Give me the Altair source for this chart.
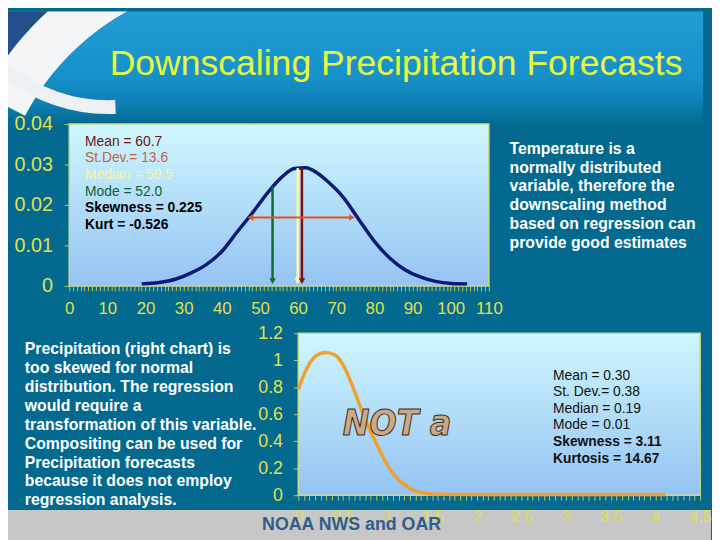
import altair as alt
import pandas as pd

# ------------------------------------------------------------------ data
# Temperature (upper chart): density curve
temp_x = [19, 24, 28, 32, 36, 40, 44, 48, 52, 56, 59, 62, 65, 68, 72, 76, 80, 84, 88, 92, 96, 100, 104.3]
temp_y = [0.0005, 0.0009, 0.0017, 0.0032, 0.0053, 0.0085, 0.0133, 0.0180, 0.0230, 0.0271, 0.0290,
          0.0292, 0.0279, 0.0256, 0.0217, 0.0163, 0.0110, 0.0069, 0.0040, 0.0022, 0.0011, 0.0006, 0.0005]

# vertical marker arrows (mode, median, mean) and the +/- st.dev. arrow
arrow_names = ["Mode", "Median", "Mean"]
arrow_x = [53.3, 59.9, 61.0]
arrow_top = [0.0246, 0.0291, 0.0291]
arrow_base = 0.0012
sd_span = [47.5, 74.1]
sd_level = 0.0169

temp_stats = ["Mean = 60.7", "St.Dev.= 13.6", "Median = 59.5", "Mode = 52.0",
              "Skewness = 0.225", "Kurt = -0.526"]

# Precipitation (lower chart): density curve
precip_x = [0, 0.08, 0.19, 0.3, 0.41, 0.52, 0.63, 0.74, 0.86, 0.97, 1.08, 1.23, 1.41, 1.59, 2.0, 3.0, 4.11]
precip_y = [0.783, 0.918, 1.029, 1.058, 1.04, 0.943, 0.77, 0.574, 0.403, 0.255, 0.145, 0.059,
            0.015, 0.007, 0.005, 0.005, 0.005]

precip_stats = ["Mean = 0.30", "St. Dev.= 0.38", "Median = 0.19", "Mode = 0.01",
                "Skewness = 3.11", "Kurtosis = 14.67"]

# tick values / labels
temp_x_ticks = list(range(0, 111))
temp_y_ticks = [0, 0.01, 0.02, 0.03, 0.04]
precip_x_ticks = [k / 16 for k in range(0, 73)]
precip_y_ticks = [0, 0.2, 0.4, 0.6, 0.8, 1.0, 1.2]

title_text = "Downscaling Precipitation Forecasts"
right_text = ["Temperature is a", "normally  distributed", "variable, therefore the",
              "downscaling method", "based on regression can", "provide good estimates"]
left_text = ["Precipitation (right chart) is", "too skewed for normal",
             "distribution.  The regression", "would require a",
             "transformation of this variable.", "Compositing can be used for",
             "Precipitation forecasts", "because it does not employ", "regression analysis."]
footer_text = "NOAA NWS and OAR"
stamp_text = "NOT a"

# ------------------------------------------------------------------ styles / layout
FONT = "Liberation Sans"
BG = "#03698f"
AXIS_YELLOW = "#e0e04c"
TITLE_YELLOW = "#e8fb3c"
FRAME = "#cdd98a"
W = 704
TL, TR, TH = 62, 487, 164      # upper plot: left / right edge, height
BL, BR, BH = 294, 701, 164     # lower plot: left / right edge, height
one = alt.Data(values=[{"k": 1}])

plot_fill = alt.LinearGradient(
    gradient="linear", x1=0, x2=0, y1=0, y2=1,
    stops=[alt.GradientStop(offset=0, color="#cff7fd"),
           alt.GradientStop(offset=1, color="#95c3f4")])
header_fill = alt.LinearGradient(
    gradient="linear", x1=0, x2=0, y1=0, y2=1,
    stops=[alt.GradientStop(offset=0, color="#229cd3"),
           alt.GradientStop(offset=0.6, color="#1690c8"),
           alt.GradientStop(offset=0.82, color="#0c7fb4"),
           alt.GradientStop(offset=1, color=BG)])

# ------------------------------------------------------------------ header
header = alt.layer(
    alt.Chart(one).mark_rect(fill=header_fill).encode(
        x=alt.value(0), x2=alt.value(W), y=alt.value(0), y2=alt.value(114)),
    alt.Chart(one).mark_arc(fill="#22508a", radius=600, radius2=298, theta=5.19, theta2=6.0, clip=True).encode(
        x=alt.value(242), y=alt.value(222)),
    alt.Chart(one).mark_arc(fill="#f3f5f7", radius=300, radius2=253, theta=5.19, theta2=6.0, clip=True).encode(
        x=alt.value(242), y=alt.value(222)),
    alt.Chart(one).mark_arc(fill="#eef1f4", radius=172, radius2=158, theta=3.1, theta2=3.85, clip=True).encode(
        x=alt.value(102), y=alt.value(-68)),
    alt.Chart(one).mark_text(text=title_text, font=FONT, fontSize=36, color=TITLE_YELLOW,
                             align="center", baseline="alphabetic").encode(
        x=alt.value(393), y=alt.value(64)),
).properties(width=W, height=114)

# ------------------------------------------------------------------ upper row (temperature)
tx_scale = alt.Scale(domain=[0, 110], range=[TL, TR], nice=False, zero=False)
ty_scale = alt.Scale(domain=[0, 0.04], nice=False)
tx_axis = alt.Axis(values=temp_x_ticks, labelExpr="datum.value % 10 == 0 ? datum.label : ''",
                   format="d", labelFlush=False, labelOverlap=False, tickSize=5, labelPadding=10,
                   labelFontSize=17, title=None)
ty_axis = alt.Axis(values=temp_y_ticks, format="~g", tickSize=5, labelPadding=12, offset=-TL,
                   labelFontSize=20, labelOverlap=False, title=None)


def TX(f="x"):
    return alt.X(f"{f}:Q", scale=tx_scale, axis=tx_axis)


def TY(f="y"):
    return alt.Y(f"{f}:Q", scale=ty_scale, axis=ty_axis)


temp_df = pd.DataFrame({"x": temp_x, "y": temp_y})
arrows_df = pd.DataFrame({"name": arrow_names, "x": arrow_x, "y": arrow_top,
                          "y2": [arrow_base] * len(arrow_x)})
heads_df = pd.DataFrame({"name": arrow_names, "x": arrow_x, "y": [arrow_base] * len(arrow_x)})
sd_df = pd.DataFrame({"x": [sd_span[0]], "x2": [sd_span[1]], "y": [sd_level]})
sd_heads_df = pd.DataFrame({"x": sd_span, "y": [sd_level, sd_level], "side": ["l", "r"]})
arrow_color = alt.Color("name:N", legend=None,
                        scale=alt.Scale(domain=arrow_names, range=["#0d6a31", "#fdfdb0", "#7e0d12"]))

temp_stat_colors = ["#6b1515", "#c2604a", "#f4f4a8", "#0d6030", "#000000", "#000000"]
temp_stat_weights = ["normal", "normal", "normal", "normal", "bold", "bold"]
temp_stat_layers = [
    alt.Chart(one).mark_text(text=t, font=FONT, fontSize=14, color=c, fontWeight=w,
                             align="left", baseline="alphabetic").encode(
        x=alt.value(TL + 16), y=alt.value(22 + i * 16.9))
    for i, (t, c, w) in enumerate(zip(temp_stats, temp_stat_colors, temp_stat_weights))
]

row1 = alt.layer(
    alt.Chart(one).mark_rect(fill=plot_fill, stroke=FRAME, strokeWidth=1.5).encode(
        x=alt.value(TL), x2=alt.value(TR), y=alt.value(0), y2=alt.value(TH)),
    alt.Chart(temp_df).mark_line(color="#0b1a78", strokeWidth=3.5, interpolate="monotone").encode(
        x=TX(), y=TY()),
    alt.Chart(arrows_df).mark_rule(strokeWidth=2.5).encode(
        x=TX(), y=TY(), y2=alt.Y2("y2"), color=arrow_color),
    alt.Chart(heads_df).mark_point(shape="triangle-down", filled=True, size=45, opacity=1).encode(
        x=TX(), y=TY(), color=arrow_color),
    alt.Chart(sd_df).mark_rule(strokeWidth=2, color="#e8501e").encode(
        x=TX(), x2=alt.X2("x2"), y=TY()),
    alt.Chart(sd_heads_df).mark_point(filled=True, size=45, opacity=1, color="#e8501e").encode(
        x=TX(), y=TY(),
        shape=alt.Shape("side:N", legend=None,
                        scale=alt.Scale(domain=["l", "r"], range=["triangle-left", "triangle-right"]))),
    *temp_stat_layers,
    alt.Chart(one).mark_text(
        text=right_text, font=FONT, fontSize=16, fontWeight="bold", color="white",
        align="left", baseline="alphabetic", lineHeight=19.2).encode(
        x=alt.value(508), y=alt.value(30)),
).properties(width=W, height=TH)

gap = alt.Chart(one).mark_rect(opacity=0).encode(
    x=alt.value(0), x2=alt.value(1), y=alt.value(0), y2=alt.value(1)).properties(width=W, height=48)

# ------------------------------------------------------------------ lower row (precipitation)
bx_scale = alt.Scale(domain=[0, 4.5], range=[BL, BR], nice=False, zero=False)
by_scale = alt.Scale(domain=[0, 1.2], nice=False)
bx_axis = alt.Axis(values=precip_x_ticks,
                   labelExpr="datum.value * 2 == round(datum.value * 2) ? datum.label : ''",
                   format="~g", labelFlush=False, labelOverlap=False, tickSize=5, labelPadding=9,
                   labelFontSize=16, title=None, zindex=1)
by_axis = alt.Axis(values=precip_y_ticks, format="~g", tickSize=5, labelPadding=11, offset=-BL,
                   labelFontSize=18, labelOverlap=False, title=None)

precip_df = pd.DataFrame({"x": precip_x, "y": precip_y})

precip_stat_weights = ["normal", "normal", "normal", "normal", "bold", "bold"]
precip_stat_layers = [
    alt.Chart(one).mark_text(text=t, font=FONT, fontSize=14, color="#111111", fontWeight=w,
                             align="left", baseline="alphabetic").encode(
        x=alt.value(BL + 258), y=alt.value(47 + i * 16.8))
    for i, (t, w) in enumerate(zip(precip_stats, precip_stat_weights))
]

row2 = alt.layer(
    alt.Chart(one).mark_rect(color="#c7c7c7").encode(
        x=alt.value(0), x2=alt.value(712), y=alt.value(179), y2=alt.value(212)),
    alt.Chart(one).mark_text(
        text=left_text, font=FONT, fontSize=16, fontWeight="bold", color="white",
        align="left", baseline="alphabetic", lineHeight=19.16).encode(
        x=alt.value(17), y=alt.value(21)),
    alt.Chart(one).mark_rect(fill=plot_fill, stroke=FRAME, strokeWidth=1.5).encode(
        x=alt.value(BL), x2=alt.value(BR), y=alt.value(0), y2=alt.value(BH)),
    alt.Chart(precip_df).mark_line(color="#f0a030", strokeWidth=3.5, interpolate="monotone").encode(
        x=alt.X("x:Q", scale=bx_scale, axis=bx_axis),
        y=alt.Y("y:Q", scale=by_scale, axis=by_axis)),
    alt.Chart(one).mark_text(text=stamp_text, font="Liberation Sans Narrow, DejaVu Sans Condensed",
                             fontSize=36, fontWeight="bold", fontStyle="italic", fill="#c9a98a",
                             stroke="#4a2a12", strokeWidth=1, align="center",
                             baseline="alphabetic").encode(
        x=alt.value(BL + 100), y=alt.value(103)),
    *precip_stat_layers,
).properties(width=W, height=BH)

footer = alt.Chart(one).mark_text(text=footer_text, font=FONT, fontSize=18, fontWeight="bold",
                                  color="#2e5d8e", align="center", baseline="alphabetic").encode(
    x=alt.value(348), y=alt.value(35)).properties(width=W, height=42)

chart = alt.vconcat(header, row1, gap, row2, footer, spacing=0, bounds="flush").properties(
    background=BG, padding=0
).configure_view(strokeWidth=0).configure_axis(
    labelFont=FONT, labelColor=AXIS_YELLOW, tickColor="#b9c66a", tickWidth=1,
    domain=False, grid=False
)

chart.save("out.html", embed_options={"renderer": "svg", "actions": False})
